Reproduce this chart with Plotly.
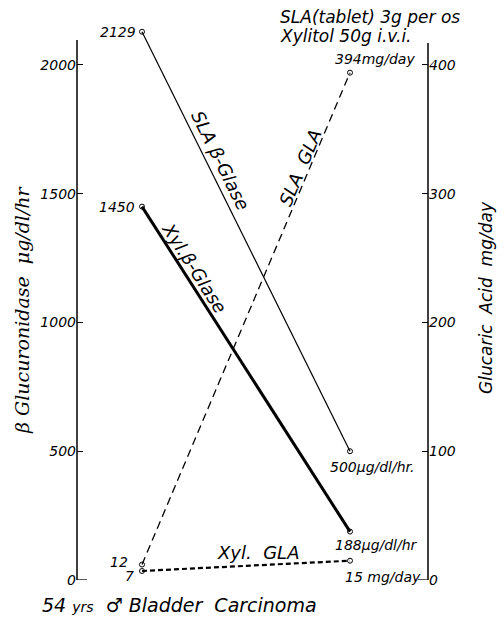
import math
import plotly.graph_objects as go

# ---------------- data ----------------
stages = [0, 1]                      # before / after (x positions of the two measurement columns)
sla_bglase = [2129, 500]             # SLA beta-glucuronidase, ug/dl/hr
xyl_bglase = [1450, 188]             # Xylitol beta-glucuronidase, ug/dl/hr
sla_gla = [12, 394]                  # SLA glucaric acid, mg/day
xyl_gla = [7, 15]                    # Xylitol glucaric acid, mg/day

left_ticks = [0, 500, 1000, 1500, 2000]
right_ticks = [0, 100, 200, 300, 400]

sla_b_labels = ["2129", "500μg/dl/hr."]
xyl_b_labels = ["1450", "188μg/dl/hr"]
sla_g_labels = ["12", "394mg/day"]
xyl_g_labels = ["7", "15 mg/day"]

# ---------------- geometry ----------------
W, H = 504, 618
ML, MR, MT, MB = 77, 76, 15, 38
PW, PH = W - ML - MR, H - MT - MB
Y_MAX = 2194.0
R_MAX = Y_MAX / 5.0
X_RANGE = [-0.3125, 1.375]
PX_X = PW / (X_RANGE[1] - X_RANGE[0])
PX_Y = PH / Y_MAX
PX_R = PH / R_MAX

FONT = "DejaVu Sans"
SERIF = "DejaVu Serif"
BLACK = "black"


def ang(y0, y1, pxy):
    dx = (stages[1] - stages[0]) * PX_X
    dy = (y1 - y0) * pxy
    return -math.degrees(math.atan2(dy, dx))


def along(t, vals):
    return stages[0] + t * (stages[1] - stages[0]), vals[0] + t * (vals[1] - vals[0])


def py(pix):
    """page pixel row -> paper y"""
    return (MT + PH - pix) / PH


def px(pix):
    """page pixel column -> paper x"""
    return (pix - ML) / PW


fig = go.Figure()
marker = dict(symbol="circle-open", size=5, color=BLACK, line=dict(width=1, color=BLACK))

fig.add_trace(go.Scatter(x=stages, y=sla_bglase, mode="lines+markers", yaxis="y",
                         line=dict(color=BLACK, width=1.2), marker=marker, cliponaxis=False))
fig.add_trace(go.Scatter(x=stages, y=xyl_bglase, mode="lines+markers", yaxis="y",
                         line=dict(color=BLACK, width=3), marker=marker, cliponaxis=False))
fig.add_trace(go.Scatter(x=stages, y=sla_gla, mode="lines+markers", yaxis="y2",
                         line=dict(color=BLACK, width=1.3, dash="8px,5px"), marker=marker, cliponaxis=False))
fig.add_trace(go.Scatter(x=stages, y=xyl_gla, mode="lines+markers", yaxis="y2",
                         line=dict(color=BLACK, width=2.2, dash="5px,3px"), marker=marker, cliponaxis=False))

ann = []
lf = dict(family=FONT, size=14, color=BLACK, style="italic")


def lab(text, x, y, yref, xanchor, xs, ys, font=lf):
    ann.append(dict(text=text, x=x, y=y, xref="x", yref=yref, showarrow=False,
                    xanchor=xanchor, yanchor="middle", xshift=xs, yshift=ys, font=font))


# point value labels
lab(sla_b_labels[0], stages[0], sla_bglase[0], "y", "right", -4, 0)
lab(sla_b_labels[1], stages[1], sla_bglase[1], "y", "left", -22, -16)
lab(xyl_b_labels[0], stages[0], xyl_bglase[0], "y", "right", -5, 0)
lab(xyl_b_labels[1], stages[1], xyl_bglase[1], "y", "left", -17, -13)
lab(sla_g_labels[0], stages[0], sla_gla[0], "y2", "right", -12, 3)
lab(sla_g_labels[1], stages[1], sla_gla[1], "y2", "left", -17, 14)
lab(xyl_g_labels[0], stages[0], xyl_gla[0], "y2", "right", -6, -5)
lab(xyl_g_labels[1], stages[1], xyl_gla[1], "y2", "left", -7, -16)

# line name labels
nf = dict(family=FONT, size=18, color=BLACK, style="italic")
x_, y_ = along(0.306, sla_bglase)
ann.append(dict(text="SLA β-Glase", x=x_, y=y_, xref="x", yref="y", showarrow=False,
                textangle=ang(*sla_bglase, PX_Y), xshift=15, yshift=0, font=nf))
x_, y_ = along(0.188, xyl_bglase)
ann.append(dict(text="Xyl.β-Glase", x=x_, y=y_, xref="x", yref="y", showarrow=False,
                textangle=ang(*xyl_bglase, PX_Y), xshift=13, yshift=0, font=nf))
x_, y_ = along(0.808, sla_gla)
ann.append(dict(text="SLA  GLA", x=x_, y=y_, xref="x", yref="y2", showarrow=False,
                textangle=ang(*sla_gla, PX_R), xshift=-10, yshift=0, font=nf))
x_, y_ = along(0.556, xyl_gla)
ann.append(dict(text="Xyl.  GLA", x=x_, y=y_, xref="x", yref="y2", showarrow=False,
                xshift=0, yshift=13, font=nf))

# axis titles and captions
tf = dict(family=FONT, size=17, color=BLACK, style="italic")
ann.append(dict(text="β Glucuronidase  μg/dl/hr", x=px(22), y=py(310),
                xref="paper", yref="paper", textangle=-90, showarrow=False,
                xanchor="center", yanchor="middle",
                font=dict(family=SERIF, size=19, color=BLACK, style="italic")))
ann.append(dict(text="Glucaric  Acid  mg/day", x=px(486), y=py(298),
                xref="paper", yref="paper", textangle=-90, showarrow=False,
                xanchor="center", yanchor="middle", font=tf))
ann.append(dict(text="SLA(tablet) 3g per os", x=px(278), y=py(17),
                xref="paper", yref="paper", showarrow=False, xanchor="left", yanchor="middle", font=tf))
ann.append(dict(text="Xylitol 50g i.v.i.", x=px(278), y=py(36),
                xref="paper", yref="paper", showarrow=False, xanchor="left", yanchor="middle", font=tf))
ann.append(dict(text="54 <span style='font-size:14px'>yrs</span>  ♂ Bladder  Carcinoma",
                x=px(40), y=py(605),
                xref="paper", yref="paper", showarrow=False, xanchor="left", yanchor="middle",
                font=dict(family=FONT, size=19, color=BLACK, style="italic")))

shapes = [
    dict(type="line", xref="paper", yref="y", x0=0, x1=0, y0=0, y1=2097, line=dict(color=BLACK, width=1.5)),
    dict(type="line", xref="paper", yref="y2", x0=1, x1=1, y0=0, y1=417, line=dict(color=BLACK, width=1.5)),
    dict(type="line", xref="paper", yref="y", x0=0, x1=10 / PW, y0=0, y1=0, line=dict(color=BLACK, width=1.3)),
    dict(type="line", xref="paper", yref="y2", x0=1 - 10 / PW, x1=1, y0=0, y1=0, line=dict(color=BLACK, width=1.3)),
]

tickfont = dict(family=FONT, size=14, color=BLACK, style="italic")
fig.update_layout(
    width=W, height=H,
    margin=dict(l=ML, r=MR, t=MT, b=MB),
    paper_bgcolor="white", plot_bgcolor="white",
    showlegend=False,
    xaxis=dict(range=X_RANGE, visible=False, fixedrange=True),
    yaxis=dict(range=[0, Y_MAX], tickvals=left_ticks, ticks="inside", ticklen=6, tickwidth=1.2,
               tickcolor=BLACK, showgrid=False, zeroline=False, showline=False, tickfont=tickfont),
    yaxis2=dict(range=[0, R_MAX], tickvals=right_ticks, overlaying="y", side="right", ticks="inside",
                ticklen=6, tickwidth=1.2, tickcolor=BLACK, showgrid=False, zeroline=False,
                showline=False, tickfont=tickfont),
    annotations=ann,
    shapes=shapes,
)

fig.write_html("out.html", config={"displayModeBar": False},
               post_script="document.body.style.margin='0';document.body.style.overflow='hidden';")
